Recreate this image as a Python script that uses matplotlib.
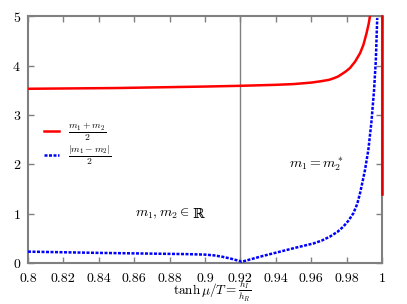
import matplotlib
matplotlib.use("Agg")
import matplotlib.pyplot as plt

plt.rcParams["font.family"] = "cmr10"
plt.rcParams["mathtext.fontset"] = "cm"
plt.rcParams["axes.formatter.use_mathtext"] = True

# red curve: (m1+m2)/2
x_sum = [0.80, 0.85, 0.90, 0.92, 0.94, 0.95, 0.96, 0.965, 0.97, 0.9725, 0.975,
         0.977, 0.9795, 0.9819, 0.9848, 0.9876, 0.9895, 0.9913, 0.9925, 0.9932]
y_sum = [3.53, 3.545, 3.575, 3.59, 3.61, 3.625, 3.655, 3.68, 3.71, 3.74, 3.775,
         3.82, 3.88, 3.95, 4.08, 4.25, 4.42, 4.66, 4.85, 5.0]

# red vertical branch at x = 1
x_sum_edge = [1.0, 1.0]
y_sum_edge = [1.4, 5.0]

# blue curve: |m1-m2|/2
x_diff = [0.80, 0.84, 0.87, 0.89, 0.90, 0.905, 0.91, 0.915, 0.92, 0.9207,
          0.9329, 0.9424, 0.9518, 0.9612, 0.966, 0.9706, 0.975, 0.9781, 0.981,
          0.9838, 0.986, 0.9876, 0.989, 0.9904, 0.9923, 0.994, 0.9955, 0.9965,
          0.9973]
y_diff = [0.235, 0.21, 0.195, 0.185, 0.175, 0.16, 0.13, 0.09, 0.04, 0.03,
          0.15, 0.235, 0.32, 0.40, 0.46, 0.54, 0.64, 0.74, 0.86,
          1.01, 1.2, 1.42, 1.65, 1.89, 2.3, 2.85, 3.5, 4.1,
          4.96]

x_ticks = [0.8, 0.82, 0.84, 0.86, 0.88, 0.9, 0.92, 0.94, 0.96, 0.98, 1.0]
x_ticklabels = ["0.8", "0.82", "0.84", "0.86", "0.88", "0.9", "0.92", "0.94", "0.96", "0.98", "1"]
y_ticks = [0, 1, 2, 3, 4, 5]

fig = plt.figure(figsize=(4.07, 3.04), dpi=100)
ax = fig.add_axes([0.0688, 0.134, 0.8698, 0.813])

ax.axvline(0.92, color="#808080", linewidth=1.0, zorder=1)
ax.plot(x_sum, y_sum, color="red", linewidth=1.8, label=r"$\frac{m_1+m_2}{2}$", zorder=3)
ax.plot(x_sum_edge, y_sum_edge, color="#dd0000", linewidth=1.8, zorder=3, clip_on=False)
ax.plot(x_diff, y_diff, color="blue", linewidth=1.8, linestyle=(0, (1.2, 0.6)),
        label=r"$\frac{|m_1-m_2|}{2}$", zorder=3)

ax.set_xlim(0.8, 1.0)
ax.set_ylim(0, 5)
ax.set_xticks(x_ticks)
ax.set_xticklabels(x_ticklabels)
ax.set_yticks(y_ticks)
ax.tick_params(direction="in", top=True, right=True, color="#808080",
               labelsize=10, length=4, width=1, pad=5)
ax.tick_params(axis="x", pad=7)
for s in ax.spines.values():
    s.set_color("#808080")
    s.set_linewidth(1.5)

ax.set_xlabel(r"$\tanh\mu/T=\frac{h_I}{h_R}$", fontsize=9.5)
ax.xaxis.set_label_coords(0.52, -0.166)
ax.xaxis.label.set_va("bottom")

t1 = ax.text(0.876, 1.0, r"$m_1,m_2\in$", fontsize=10, ha="center", va="center")
ax.annotate("ℝ", xy=(1, 0.5), xycoords=t1, xytext=(2, 0), textcoords="offset points",
            ha="left", va="center", fontsize=10, family="DejaVu Serif")
ax.text(0.963, 2.0, r"$m_1=m_2^*$", fontsize=10, ha="center", va="center")

ax.legend(loc="upper left", bbox_to_anchor=(0.045, 0.575), frameon=False, fontsize=10,
          handlelength=1.1, handletextpad=0.6, labelspacing=0.02, borderaxespad=0,
          borderpad=0)

fig.savefig("out.png", dpi=100)
